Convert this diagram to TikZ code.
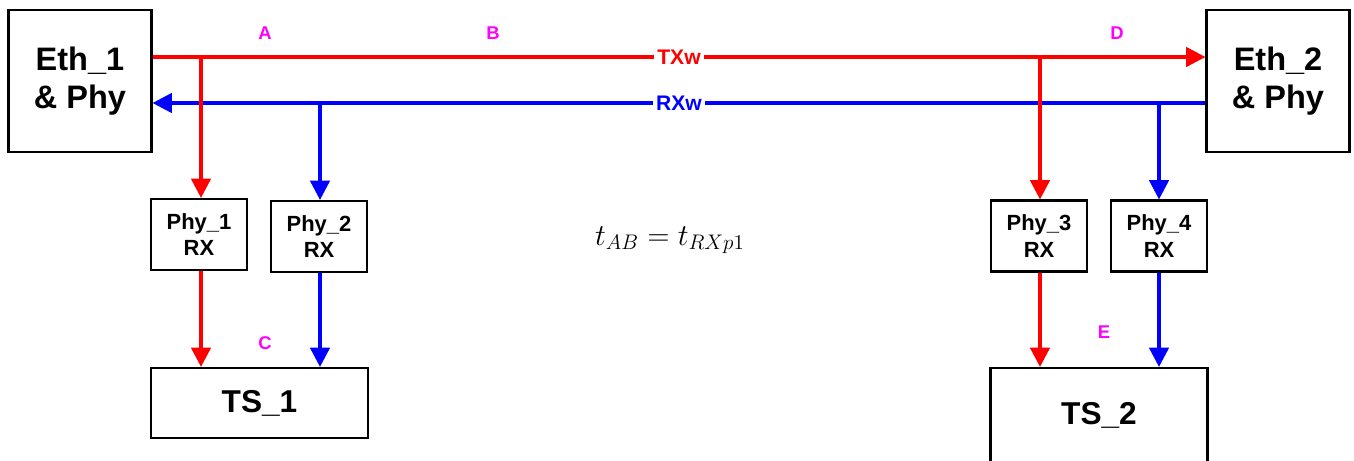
\documentclass[tikz,border=0pt]{standalone}
\usepackage{fontspec}
\setmainfont{Liberation Sans}
\usetikzlibrary{arrows.meta}
\definecolor{pointpink}{RGB}{255,0,255}

\begin{document}
\begin{tikzpicture}[
        x=0.02cm, y=-0.02cm,
        box/.style={draw, rectangle, line width=1.2pt, inner sep=0pt, align=center},
        eth/.style={box, minimum width=2.86cm, minimum height=2.84cm, font=\fontsize{18.5}{21.5}\selectfont\bfseries},
        phy/.style={box, minimum width=1.92cm, minimum height=1.42cm, font=\fontsize{12.5}{15}\selectfont\bfseries},
        ts/.style={box, minimum width=4.34cm, minimum height=1.4cm, font=\fontsize{18}{21}\selectfont\bfseries},
        tx edge/.style={red, line width=2pt, -{Triangle[length=11pt,width=11pt]}},
        rx edge/.style={blue, line width=2pt, -{Triangle[length=11pt,width=11pt]}},
        wire label/.style={fill=white, inner sep=2pt, font=\fontsize{12}{14}\selectfont\bfseries},
        point/.style={pointpink, font=\fontsize{10.5}{12}\selectfont\bfseries}
    ]
        \useasboundingbox (0,0) rectangle (1354,460);

        % Ethernet ends
        \node[eth] (eth1) at (80,81) {Eth\_1\\\& Phy};
        \node[eth] (eth2) at (1278,81) {Eth\_2\\\& Phy};

        % receivers and time stamp units
        \node[phy] (phy1) at (199,234.5) {Phy\_1\\RX};
        \node[phy] (phy2) at (319,236.5) {Phy\_2\\RX};
        \node[phy] (phy3) at (1039,236) {Phy\_3\\RX};
        \node[phy] (phy4) at (1159,236) {Phy\_4\\RX};
        \node[ts] (ts1) at (259.5,403) {TS\_1};
        \node[ts, minimum height=1.88cm] (ts2) at (1099,415) {TS\_2};

        % taps on the wires
        \coordinate (txy) at (0,57);
        \coordinate (rxy) at (0,103);
        \coordinate (tap1) at (201,57);
        \coordinate (tap2) at (320,103);
        \coordinate (tap3) at (1040,57);
        \coordinate (tap4) at (1159,103);

        % wires
        \draw[tx edge] (eth1.east |- txy) -- node[wire label, text=red] {TXw} (eth2.west |- txy);
        \draw[rx edge] (eth2.west |- rxy) -- node[wire label, text=blue] {RXw} (eth1.east |- rxy);

        % branches
        \draw[tx edge] (tap1) -- (tap1 |- phy1.north);
        \draw[rx edge] (tap2) -- (tap2 |- phy2.north);
        \draw[tx edge] (tap3) -- (tap3 |- phy3.north);
        \draw[rx edge] (tap4) -- (tap4 |- phy4.north);
        \draw[tx edge] (phy1.south -| tap1) -- (ts1.north -| tap1);
        \draw[rx edge] (phy2.south -| tap2) -- (ts1.north -| tap2);
        \draw[tx edge] (phy3.south -| tap3) -- (ts2.north -| tap3);
        \draw[rx edge] (phy4.south -| tap4) -- (ts2.north -| tap4);

        % measuring points
        \node[point] (pA) at (265,33) {A};
        \node[point] (pB) at (493,33) {B};
        \node[point] (pC) at (265,343) {C};
        \node[point] (pD) at (1117,33) {D};
        \node[point] (pE) at (1104,332) {E};

        \node[font=\fontsize{17}{20}\selectfont] (eq) at (670,240) {$t_{AB} = t_{RXp1}$};
\end{tikzpicture}
\end{document}
